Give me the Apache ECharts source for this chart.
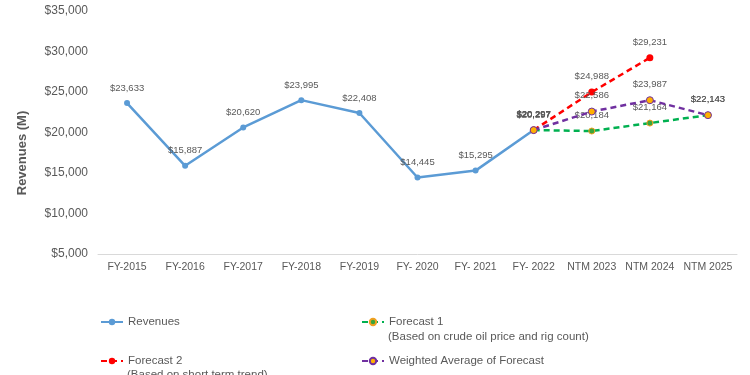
<!DOCTYPE html>
<html>
<head>
<meta charset="utf-8">
<script src="https://cdn.jsdelivr.net/npm/echarts@6/dist/echarts.min.js"></script>
<style>
  html, body { margin: 0; padding: 0; background: #fff; }
  #chart { width: 750px; height: 375px; }
</style>
</head>
<body>
<div id="chart"></div>
<script>
// data
var categories = ['FY-2015', 'FY-2016', 'FY-2017', 'FY-2018', 'FY-2019', 'FY- 2020', 'FY- 2021', 'FY- 2022', 'NTM 2023', 'NTM 2024', 'NTM 2025'];
var revenues = [23633, 15887, 20620, 23995, 22408, 14445, 15295, 20297, null, null, null];
var forecast1 = [null, null, null, null, null, null, null, 20297, 20184, 21164, 22143];
var forecast2 = [null, null, null, null, null, null, null, 20297, 24988, 29231, null];
var weighted = [null, null, null, null, null, null, null, 20297, 22586, 23987, 22143];
var yTicks = { min: 5000, max: 35000, step: 5000 };

var textGray = '#595959';
var sans = "'Liberation Sans', Arial, sans-serif";

var chart = echarts.init(document.getElementById('chart'));

function money(v) {
    return '$' + Number(v).toLocaleString('en-US');
}

var labelStyle = {
    show: true,
    position: 'top',
    distance: 7,
    color: textGray,
    fontSize: 9.5,
    fontFamily: sans,
    formatter: function (p) { return money(p.value); }
};

function legendAt(name, left, top) {
    return {
        data: [name],
        left: left,
        top: top,
        itemWidth: 22,
        itemHeight: 8,
        itemGap: 2,
        padding: 0,
        textStyle: { color: textGray, fontSize: 11.5, fontFamily: sans }
    };
}

var option = {
    animation: false,
    grid: { left: 98, right: 13, top: 11, bottom: 121 },
    legend: [
        legendAt('Revenues', 100, 316),
        legendAt('Forecast 1', 361, 316),
        legendAt('Forecast 2', 100, 355),
        legendAt('Weighted Average of Forecast', 361, 355)
    ],
    graphic: [
        {
            type: 'text',
            x: 22, y: 153,
            rotation: Math.PI / 2,
            style: {
                text: 'Revenues (M)',
                fill: textGray,
                font: "bold 13px " + sans,
                textAlign: 'center',
                textVerticalAlign: 'middle'
            }
        },
        {
            type: 'text',
            left: 388, top: 331,
            style: {
                text: '(Based on crude oil price and rig count)',
                fill: textGray,
                font: "11.5px " + sans
            }
        },
        {
            type: 'text',
            left: 127, top: 369,
            style: {
                text: '(Based on short term trend)',
                fill: textGray,
                font: "11.5px " + sans
            }
        }
    ],
    xAxis: {
        type: 'category',
        data: categories,
        boundaryGap: true,
        axisLine: { lineStyle: { color: '#D9D9D9', width: 1 } },
        axisTick: { show: false },
        axisLabel: { color: textGray, fontSize: 10.5, fontFamily: sans, margin: 8, interval: 0 }
    },
    yAxis: {
        type: 'value',
        min: yTicks.min,
        max: yTicks.max,
        interval: yTicks.step,
        axisLine: { show: false },
        axisTick: { show: false },
        splitLine: { show: false },
        axisLabel: {
            color: textGray,
            fontSize: 12,
            fontFamily: sans,
            margin: 10,
            formatter: money
        }
    },
    series: [
        {
            name: 'Revenues',
            type: 'line',
            data: revenues,
            symbol: 'circle',
            symbolSize: 6,
            color: '#5B9BD5',
            lineStyle: { color: '#5B9BD5', width: 2.5 },
            itemStyle: { color: '#5B9BD5' },
            label: labelStyle,
            z: 2
        },
        {
            name: 'Forecast 1',
            type: 'line',
            data: forecast1,
            symbol: 'circle',
            symbolSize: 6,
            color: '#00B050',
            lineStyle: { color: '#00B050', width: 2.5, type: [6, 4] },
            itemStyle: { color: '#3BA53B', borderColor: '#F0A020', borderWidth: 1 },
            label: labelStyle,
            z: 3
        },
        {
            name: 'Forecast 2',
            type: 'line',
            data: forecast2,
            symbol: 'circle',
            symbolSize: 7,
            color: '#FF0000',
            lineStyle: { color: '#FF0000', width: 2.5, type: [6, 4] },
            itemStyle: { color: '#FF0000' },
            label: labelStyle,
            z: 3
        },
        {
            name: 'Weighted Average of Forecast',
            type: 'line',
            data: weighted,
            symbol: 'circle',
            symbolSize: 7,
            color: '#7030A0',
            lineStyle: { color: '#7030A0', width: 2.5, type: [6, 4] },
            itemStyle: { color: '#FFB000', borderColor: '#7030A0', borderWidth: 1 },
            label: labelStyle,
            z: 4
        }
    ]
};

chart.setOption(option);
</script>
</body>
</html>
